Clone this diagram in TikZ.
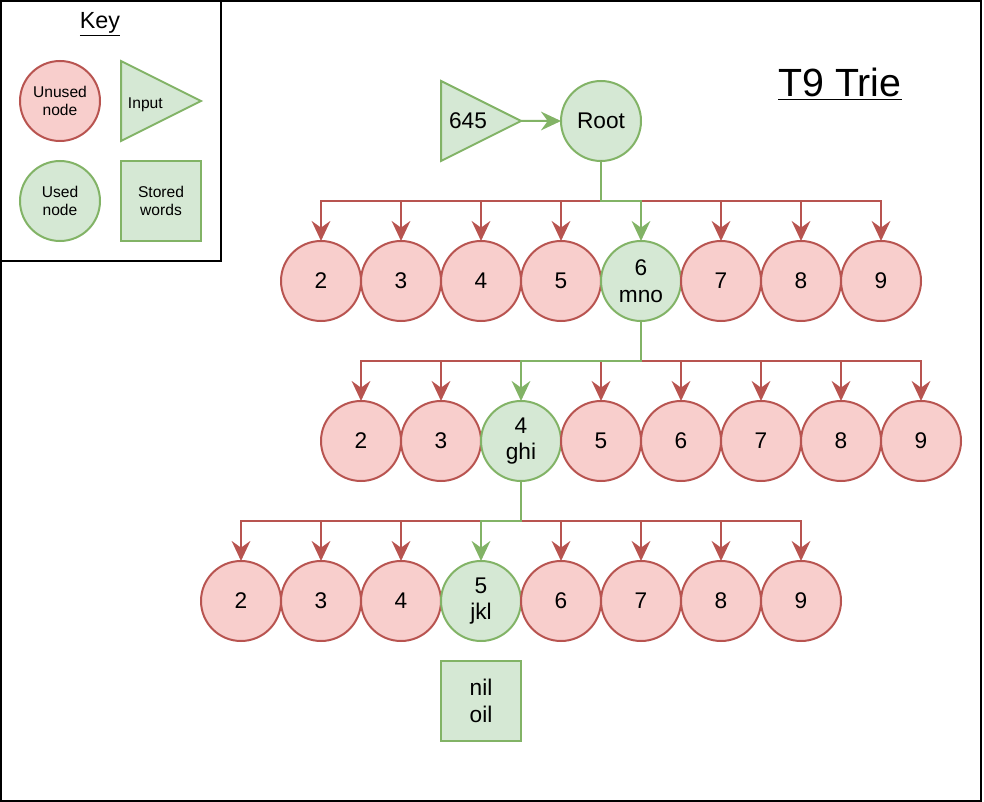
\documentclass[tikz,border=0pt]{standalone}
\usepackage{fontspec}
\setmainfont{Liberation Sans}
\usetikzlibrary{shapes.geometric}
\usetikzlibrary{arrows.meta}
\usetikzlibrary{positioning}

\definecolor{unusedfill}{HTML}{F8CECC}
\definecolor{unuseddraw}{HTML}{B85450}
\definecolor{usedfill}{HTML}{D5E8D4}
\definecolor{useddraw}{HTML}{82B366}

\begin{document}
\begin{tikzpicture}[
  x=0.75pt, y=-0.75pt,
  line width=1.5pt,
  every node/.style={outer sep=0pt, align=center,
    font=\fontsize{17}{20}\selectfont},
  unused/.style={circle, draw=unuseddraw, fill=unusedfill,
    minimum size=60pt, inner sep=0pt},
  used/.style={circle, draw=useddraw, fill=usedfill,
    minimum size=60pt, inner sep=0pt},
  inputbox/.style={isosceles triangle, isosceles triangle stretches,
    draw=useddraw, fill=usedfill, minimum width=60pt, minimum height=60pt,
    inner sep=0pt},
  words/.style={rectangle, draw=useddraw, fill=usedfill,
    minimum size=60pt, inner sep=0pt},
  keytext/.style={font=\fontsize{11.7}{13.5}\selectfont},
  redline/.style={draw=unuseddraw, -{Stealth[length=15pt,width=14pt,inset=5pt]}},
  greenline/.style={draw=useddraw, -{Stealth[length=15pt,width=14pt,inset=5pt]}},
  node distance=0pt
]
\useasboundingbox (0,0) rectangle (984,802);
\draw (1,1) rectangle (981,801);

% key
\draw (1,1) rectangle (221,261);
\node (keytitle) at (100,24) {\fontsize{17.5}{20}\selectfont\underline{Key}};
\node[unused, keytext] (kunused) at (60,101) {Unused\\node};
\node[inputbox, keytext, anchor=east, text height=14pt, text depth=3pt] (kinput) at (201,101) {Input};
\node[used, keytext] (kused) at (60,201) {Used\\node};
\node[words, keytext] (kwords) at (161,201) {Stored\\words};

\node (title) at (840,84) {\fontsize{29.5}{34}\selectfont\underline{T9 Trie}};

% input and root
\node[used] (root) at (601,121) {Root};
\node[inputbox, left=30pt of root] (num) {645};
\draw[greenline] (num.apex) -- (root);

% first digit
\node[unused] (a2) at (321,281) {2};
\node[unused, right=of a2] (a3) {3};
\node[unused, right=of a3] (a4) {4};
\node[unused, right=of a4] (a5) {5};
\node[used, right=of a5] (a6) {6\\mno};
\node[unused, right=of a6] (a7) {7};
\node[unused, right=of a7] (a8) {8};
\node[unused, right=of a8] (a9) {9};

% second digit
\node[unused] (b2) at (361,441) {2};
\node[unused, right=of b2] (b3) {3};
\node[used, right=of b3] (b4) {4\\ghi};
\node[unused, right=of b4] (b5) {5};
\node[unused, right=of b5] (b6) {6};
\node[unused, right=of b6] (b7) {7};
\node[unused, right=of b7] (b8) {8};
\node[unused, right=of b8] (b9) {9};

% third digit
\node[unused] (c2) at (241,601) {2};
\node[unused, right=of c2] (c3) {3};
\node[unused, right=of c3] (c4) {4};
\node[used, right=of c4] (c5) {5\\jkl};
\node[unused, right=of c5] (c6) {6};
\node[unused, right=of c6] (c7) {7};
\node[unused, right=of c7] (c8) {8};
\node[unused, right=of c8] (c9) {9};

\node[words, below=15pt of c5] (stored) {nil\\oil};

% edges, red first so the green path lies on top
\foreach \n in {a2,a3,a4,a5,a7,a8,a9}
  \draw[redline] (root.south) -- ++(0,-30pt) -| (\n.north);
\draw[greenline] (root.south) -- ++(0,-30pt) -| (a6.north);

\foreach \n in {b2,b3,b5,b6,b7,b8,b9}
  \draw[redline] (a6.south) -- ++(0,-30pt) -| (\n.north);
\draw[greenline] (a6.south) -- ++(0,-30pt) -| (b4.north);

\foreach \n in {c2,c3,c4,c6,c7,c8,c9}
  \draw[redline] (b4.south) -- ++(0,-30pt) -| (\n.north);
\draw[greenline] (b4.south) -- ++(0,-30pt) -| (c5.north);
\end{tikzpicture}
\end{document}
